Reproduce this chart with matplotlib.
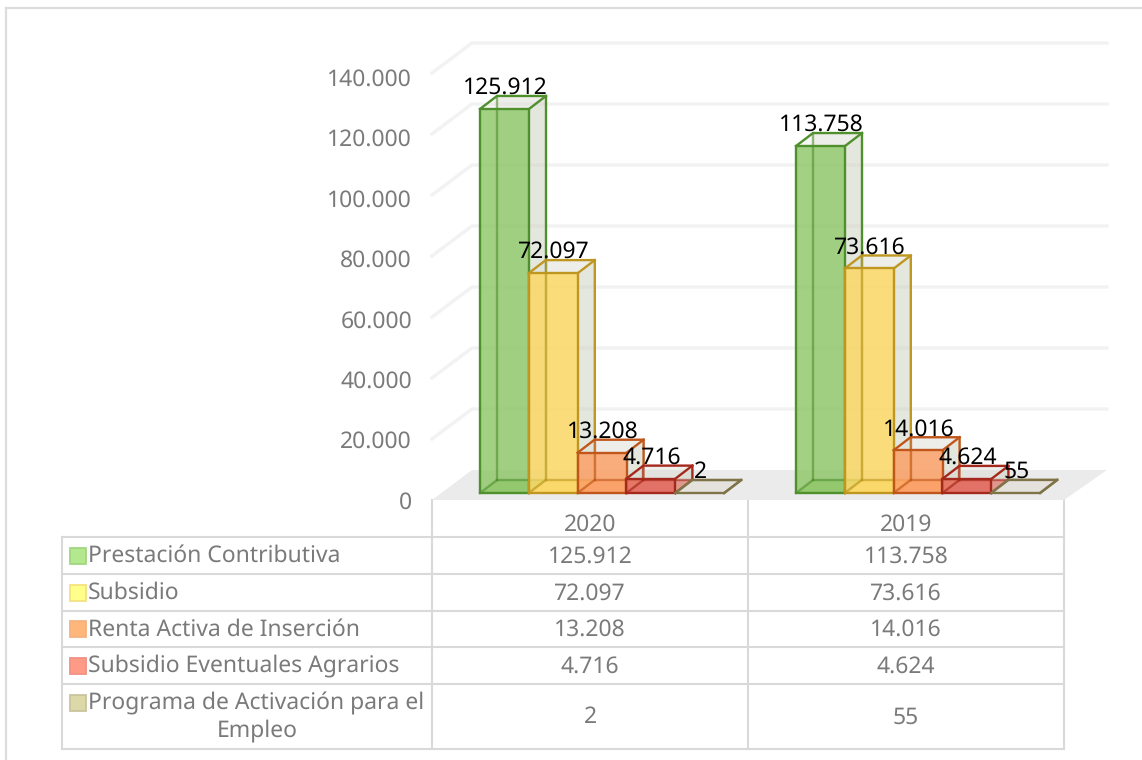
import matplotlib
matplotlib.use('Agg')
import matplotlib.pyplot as plt
from matplotlib.patches import Polygon, Rectangle

plt.rcParams['font.family'] = ['Noto Sans', 'DejaVu Sans']
plt.rcParams['text.hinting'] = 'no_hinting'
plt.rcParams['text.hinting_factor'] = 1

# datos
years = ['2020', '2019']
prestacion = [125912, 113758]
subsidio = [72097, 73616]
renta = [13208, 14016]
eventuales = [4716, 4624]
programa = [2, 55]
series_names = ['Prestación Contributiva', 'Subsidio', 'Renta Activa de Inserción',
                'Subsidio Eventuales Agrarios', 'Programa de Activación para el\nEmpleo']
series_values = [prestacion, subsidio, renta, eventuales, programa]
y_ticks = [0, 20000, 40000, 60000, 80000, 100000, 120000, 140000]

front_colors = ['#8cc665', '#fcd75e', '#fd9c5f', '#e2685c', '#e4e0da']
edge_colors = ['#4f8f2c', '#bf9620', '#c0561a', '#a5281c', '#7f7448']
key_colors = ['#b4e88e', '#ffff8a', '#ffb67a', '#ff9a86', '#dcd8a8']
key_edges = ['#a3d684', '#f5e27f', '#f5b27f', '#f09283', '#c9c59c']
GRAY = '#7a7a7a'
LINE = '#d9d9d9'


def fmt(v):
    return f'{v:,}'.replace(',', '.')


W, H = 1142, 760
fig = plt.figure(figsize=(W / 100, H / 100), dpi=100)

# capa de tabla y marco en pixeles
fr = fig.add_axes([0, 0, 1, 1])
fr.set_xlim(0, W)
fr.set_ylim(H, 0)
fr.axis('off')

# ejes de las barras: x en categorias, y en valores
PX_PER_CAT = 316.0
PX_PER_VAL = 3.05 / 1000
Y0 = 493
ax = fig.add_axes([0, 0, 1, 1], facecolor='none')
ax.set_xlim(-432 / PX_PER_CAT, (W - 432) / PX_PER_CAT)
ax.set_ylim(-(H - Y0) / PX_PER_VAL, Y0 / PX_PER_VAL)
ax.axis('off')

bar_w = 49 / PX_PER_CAT
gap_start = 48 / PX_PER_CAT
depth_x = 17 / PX_PER_CAT
depth_y = 13 / PX_PER_VAL
wall_dx = 40 / PX_PER_CAT
floor_front = -7 / PX_PER_VAL
floor_back = 23 / PX_PER_VAL
right = 2.0

# suelo y rejilla
ax.add_patch(Polygon([(0, floor_front), (wall_dx, floor_back),
                      (right + 43 / PX_PER_CAT, floor_back), (right, floor_front)],
                     fc='#ebebeb', ec='none', zorder=1))
for v in y_ticks[1:]:
    ax.plot([0, wall_dx, right + 43 / PX_PER_CAT],
            [v + floor_front, v + floor_back, v + floor_back],
            color='#f2f2f2', lw=2.4, zorder=1, solid_joinstyle='miter')

for v in y_ticks:
    ax.text(-20 / PX_PER_CAT, v * 0.99 + floor_front - 2.5 / PX_PER_VAL, fmt(v), ha='right', va='center',
            color=GRAY, fontsize=16.5)


def draw_bar(x, v, fc, ec, z):
    x2 = x + bar_w
    dx, dy = depth_x, depth_y
    lw = 1.7
    # caras traseras
    ax.add_patch(Polygon([(x + dx, dy), (x2 + dx, dy), (x2 + dx, v + dy), (x + dx, v + dy)],
                         fc='#d8d8d0', alpha=0.3, ec='none', zorder=z))
    ax.add_patch(Polygon([(x2, 0), (x2 + dx, dy), (x2 + dx, v + dy), (x2, v)],
                         fc='#cfd5c4', alpha=0.4, ec='none', zorder=z))
    ax.add_patch(Polygon([(x, v), (x2, v), (x2 + dx, v + dy), (x + dx, v + dy)],
                         fc='#d8d8d0', alpha=0.2, ec='none', zorder=z))
    ax.add_patch(Polygon([(x, 0), (x2, 0), (x2 + dx, dy), (x + dx, dy)],
                         fc=fc, alpha=0.6, ec='none', zorder=z))
    # cara frontal
    ax.add_patch(Rectangle((x, 0), bar_w, v, fc=fc, alpha=0.8, ec='none', zorder=z + 0.1))
    # aristas traseras vistas a traves
    for xs, ys in [([x + dx, x + dx], [dy, v + dy]),
                   ([x + dx, x2 + dx], [dy, dy]),
                   ([x, x + dx], [0, dy])]:
        ax.plot(xs, ys, color=ec, lw=lw, alpha=0.6, zorder=z + 0.2)
    ax.add_patch(Rectangle((x, 0), bar_w, v, fc='none', ec=ec, lw=lw, zorder=z + 0.3))
    # aristas exteriores
    ax.plot([x, x + dx, x2 + dx, x2 + dx, x2], [v, v + dy, v + dy, dy, 0],
            color=ec, lw=lw, zorder=z + 0.3, solid_joinstyle='miter')
    ax.plot([x2, x2 + dx], [v, v + dy], color=ec, lw=lw, zorder=z + 0.3)


for g in range(len(years)):
    for i, vals in enumerate(series_values):
        x = g + gap_start + i * (bar_w - 0.2 / PX_PER_CAT)
        draw_bar(x, vals[g], front_colors[i], edge_colors[i], 3 + i)
    for i, vals in enumerate(series_values):
        x = g + gap_start + i * (bar_w - 0.2 / PX_PER_CAT)
        ax.text(x + bar_w / 2 + 1 / PX_PER_CAT, vals[g] + depth_y + 2 / PX_PER_VAL, fmt(vals[g]),
                ha='center', va='baseline', color='black', fontsize=16.5, zorder=20)

# marco exterior
fr.plot([6, 6], [H, 8], color='#dcdcdc', lw=1.6)
fr.plot([6, W], [8, 8], color='#dcdcdc', lw=1.6)

# tabla de datos
rows_y = [537, 574, 611, 647, 684, 749]
cols_x = [62, 432, 748, 1064]
for y in rows_y:
    fr.plot([cols_x[0], cols_x[-1]], [y, y], color=LINE, lw=1.5, zorder=2)
fr.plot([cols_x[0], cols_x[0]], [rows_y[0], rows_y[-1]], color=LINE, lw=1.5)
for x in cols_x[1:]:
    fr.plot([x, x], [500, rows_y[-1]], color=LINE, lw=1.5)

for c, yr in enumerate(years):
    fr.text((cols_x[c + 1] + cols_x[c + 2]) / 2, 525, yr, ha='center', va='center',
            color=GRAY, fontsize=16.5)

for r, name in enumerate(series_names):
    yc = (rows_y[r] + rows_y[r + 1]) / 2
    key_y = yc if r < 4 else 703
    fr.add_patch(Rectangle((69.5, key_y - 8), 16, 16, fc=key_colors[r], ec=key_edges[r], lw=1.3))
    if '\n' in name:
        a, b = name.split('\n')
        fr.text(88, 703.5, a, ha='left', va='center', color=GRAY, fontsize=16.5)
        fr.text(257, 731, b, ha='center', va='center', color=GRAY, fontsize=16.5)
    else:
        fr.text(88, yc + 0.5, name, ha='left', va='center', color=GRAY, fontsize=16.5)
    for c in range(len(years)):
        fr.text((cols_x[c + 1] + cols_x[c + 2]) / 2, yc + 1, fmt(series_values[r][c]),
                ha='center', va='center', color=GRAY, fontsize=16.5)

fig.savefig('out.png', dpi=100, facecolor='white')
